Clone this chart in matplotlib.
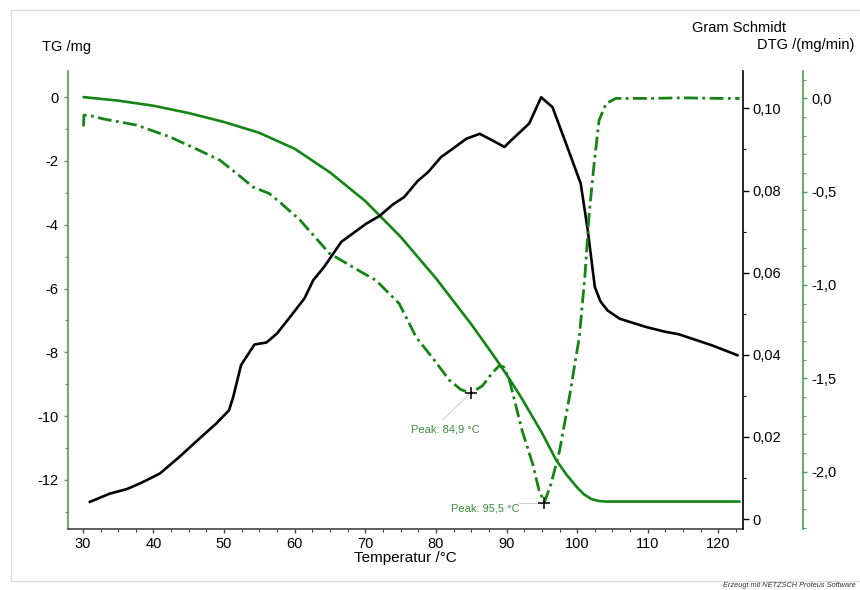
import matplotlib
matplotlib.use("Agg")
import matplotlib.pyplot as plt
from matplotlib.ticker import MultipleLocator, FuncFormatter
from matplotlib.lines import Line2D

# TG-Kurve (mg)
temp_tg = [30.1, 35, 40, 45, 50, 55, 60, 65, 70, 75, 80, 85, 88, 90, 92, 95, 97, 98.5,
           100, 101, 102, 103, 104, 110, 123]
tg = [0.0, -0.11, -0.27, -0.5, -0.78, -1.12, -1.62, -2.36, -3.26, -4.38, -5.68, -7.12,
      -8.05, -8.7, -9.39, -10.52, -11.37, -11.84, -12.24, -12.46, -12.6, -12.66, -12.68,
      -12.68, -12.68]

# DTG-Kurve (mg/min)
temp_dtg = [30.1, 30.15, 30.8, 32.9, 37.6, 42.3, 46, 49.4, 51.7, 54.1, 56.4, 58, 60.7,
            64.9, 69.4, 71.5, 74.8, 77.2, 79.5, 81.9, 83.5, 84.9, 86.6, 88.0, 89.0,
            89.6, 90.4, 92.2, 93.7, 94.6, 95.35, 96.3, 97.5, 98.9, 100.3, 101.1, 101.7,
            102.4, 103.1, 104.1, 105.5, 110, 115, 120, 123]
dtg = [-0.15, -0.09, -0.09, -0.11, -0.143, -0.206, -0.27, -0.331, -0.40, -0.475,
       -0.51, -0.56, -0.65, -0.83, -0.93, -0.975, -1.10, -1.28, -1.39, -1.51, -1.56,
       -1.58, -1.54, -1.47, -1.432, -1.44, -1.51, -1.78, -1.96, -2.10, -2.166, -2.066,
       -1.89, -1.60, -1.28, -0.95, -0.617, -0.35, -0.117, -0.027, 0.0, 0.0, 0.003,
       0.0, 0.0]

# Gram-Schmidt-Kurve
temp_gs = [31.0, 33.8, 36.2, 38.1, 40.9, 43.7, 46.5, 48.9, 50.7, 51.3, 52.4, 54.3,
           56.0, 57.5, 59.7, 61.4, 62.6, 64.2, 66.6, 70.1, 72.0, 73.9, 75.5, 77.4,
           78.9, 80.7, 82.4, 84.3, 86.2, 88.0, 89.7, 90.4, 93.2, 94.9, 96.5, 98.6,
           100.5, 101.5, 102.5, 103.3, 104.3, 106.0, 109.7, 112.5, 114.4, 119.1, 122.7]
gs = [0.0042, 0.0062, 0.0073, 0.0087, 0.0111, 0.0152, 0.0196, 0.0233, 0.0265, 0.0298,
      0.0375, 0.0425, 0.0430, 0.0452, 0.0500, 0.0538, 0.0581, 0.0615, 0.0675, 0.0719,
      0.0738, 0.0766, 0.0784, 0.0823, 0.0845, 0.0881, 0.0902, 0.0926, 0.0938, 0.0922,
      0.0906, 0.0918, 0.0963, 0.1027, 0.1003, 0.0906, 0.0817, 0.0703, 0.0565, 0.0530,
      0.0508, 0.0488, 0.0468, 0.0456, 0.0450, 0.0423, 0.0399]

# Peaks der DTG
peak_temps = [84.9, 95.35]
peak_vals = [-1.58, -2.166]
peak_labels = ["Peak: 84,9 °C", "Peak: 95,5 °C"]

GREEN = "#148414"
SPINE_GREEN = "#4f9f4f"
plt.rcParams["font.family"] = ["Liberation Sans", "DejaVu Sans"]


def komma(fmt):
    def f(v, pos):
        if abs(v) < 1e-9:
            return "0" if fmt == "{:.2f}" else fmt.format(0.0).replace(".", ",")
        return fmt.format(v).replace(".", ",")
    return FuncFormatter(f)


fig = plt.figure(figsize=(8.6, 5.9), dpi=100)
ax = fig.add_axes([0.0791, 0.1034, 0.785, 0.7763])
ax2 = ax.twinx()
ax3 = ax.twinx()

# Rahmen um die Grafik
for xs, ys in [([11 / 860, 1.0], [1 - 9.5 / 590] * 2),
               ([11 / 860, 11 / 860], [1 - 9.5 / 590, 1 - 581 / 590]),
               ([11 / 860, 1.0], [1 - 581 / 590] * 2)]:
    fig.add_artist(Line2D(xs, ys, color="#d9d9d9", lw=0.8))

ax.plot(temp_tg, tg, color=GREEN, lw=1.9, solid_capstyle="round")
ax2.plot(temp_gs, gs, color="black", lw=1.9)
ax3.plot(temp_dtg, dtg, color=GREEN, lw=2.0, linestyle=(0, (5, 1.6, 1.0, 1.6)))

ax.set_xlim(27.9, 123.5)
ax.set_ylim(-13.54, 0.82)
ax2.set_ylim(-0.0024, 0.1091)
ax3.set_ylim(-2.308, 0.147)

ax.xaxis.set_major_locator(MultipleLocator(10))
ax.xaxis.set_minor_locator(MultipleLocator(2.5))
ax.yaxis.set_major_locator(MultipleLocator(2))
ax.yaxis.set_minor_locator(MultipleLocator(1))
ax2.yaxis.set_major_locator(MultipleLocator(0.02))
ax2.yaxis.set_minor_locator(MultipleLocator(0.01))
ax3.yaxis.set_major_locator(MultipleLocator(0.5))
ax3.yaxis.set_minor_locator(MultipleLocator(0.1))

ax.xaxis.set_major_formatter(komma("{:.0f}"))
ax.yaxis.set_major_formatter(komma("{:.0f}"))
ax2.yaxis.set_major_formatter(komma("{:.2f}"))
ax3.yaxis.set_major_formatter(komma("{:.1f}"))

# Achsen / Spines
ax.spines["top"].set_visible(False)
ax.spines["right"].set_visible(False)
ax.spines["left"].set_color(SPINE_GREEN)
ax.spines["left"].set_linewidth(1.2)
ax.spines["bottom"].set_color("#444444")
ax.spines["bottom"].set_linewidth(1.2)
for s in ["top", "left", "bottom"]:
    ax2.spines[s].set_visible(False)
    ax3.spines[s].set_visible(False)
ax2.spines["right"].set_color("black")
ax2.spines["right"].set_linewidth(1.2)
ax3.spines["right"].set_position(("axes", 1.0889))
ax3.spines["right"].set_color(SPINE_GREEN)
ax3.spines["right"].set_linewidth(1.2)

ax.tick_params(axis="x", which="major", direction="out", length=3, width=1, color="#444444",
               labelsize=10.5, pad=3)
ax.tick_params(axis="x", which="minor", direction="out", length=2, width=0.8, color="#444444")
ax.tick_params(axis="y", which="major", direction="out", length=3, width=1, color=SPINE_GREEN,
               labelsize=10.5, pad=4)
ax.tick_params(axis="y", which="minor", direction="out", length=2, width=0.8, color=SPINE_GREEN)
ax2.tick_params(axis="y", which="major", direction="out", length=4, width=1, color="black",
                labelsize=10.5, pad=3)
ax2.tick_params(axis="y", which="minor", direction="out", length=2.5, width=0.8, color="black")
ax3.tick_params(axis="y", which="major", direction="out", length=3, width=1, color=SPINE_GREEN,
                labelsize=10.5, pad=3)
ax3.tick_params(axis="y", which="minor", direction="out", length=2, width=0.8, color=SPINE_GREEN)

# Peak-Markierungen
for t, v, lab, tx, ty, lx, ly in zip(peak_temps, peak_vals, peak_labels,
                                     [81.3, 87.0], [-1.777, -2.198],
                                     [80.9, 91.8], [-1.725, -2.166]):
    ax3.plot([lx, t], [ly, v], color="#cccccc", lw=0.7, zorder=3)
    ax3.plot(t, v, marker="+", color="black", ms=9, mew=1.1, zorder=5)
    ax3.text(tx, ty, lab, color="#3c8f3c", fontsize=8, ha="center", va="center")

# Beschriftungen
fig.text(42 / 860, 1 - 46.5 / 590, "TG /mg", fontsize=10.5, ha="left", va="center")
fig.text(692 / 860, 1 - 27.5 / 590, "Gram Schmidt", fontsize=10.5, ha="left", va="center")
fig.text(854 / 860, 1 - 45 / 590, "DTG /(mg/min)", fontsize=10.5, ha="right", va="center")
fig.text(405 / 860, 1 - 558 / 590, "Temperatur /°C", fontsize=11, ha="center", va="center")
fig.text(723 / 860, 1 - 585.5 / 590, "Erzeugt mit NETZSCH Proteus Software", fontsize=5.3,
         style="italic", ha="left", va="center", color="#333333")

fig.savefig("out.png", dpi=100)
